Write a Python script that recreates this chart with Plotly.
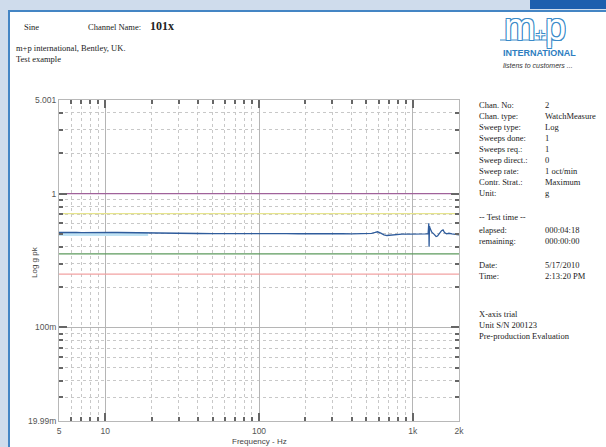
import plotly.graph_objects as go
import math

# ---------------- data ----------------
freq = [5, 5.5, 6, 6.5, 7, 8, 9, 10, 11, 12, 13, 14, 16, 18, 19, 22, 26, 30, 35, 40, 50, 60, 70,
        80, 100, 120, 150, 180, 200, 250, 300, 350, 400, 450, 500, 540, 570, 590, 620, 650,
        680, 720, 780, 850, 950, 1050, 1150, 1220, 1260, 1272, 1278, 1285, 1300, 1330, 1370,
        1420, 1450, 1490, 1540, 1575, 1610, 1660, 1720, 1800, 1880, 1950, 2000]
amp = [0.512, 0.514, 0.512, 0.513, 0.511, 0.513, 0.512, 0.511, 0.513, 0.512, 0.511, 0.512, 0.511, 0.510, 0.508,
       0.505, 0.504, 0.503, 0.504, 0.503, 0.502, 0.503, 0.502,
       0.503, 0.502, 0.503, 0.502, 0.501, 0.502, 0.501, 0.500, 0.501, 0.500, 0.501, 0.502, 0.505, 0.512, 0.518, 0.506, 0.492,
       0.486, 0.490, 0.496, 0.497, 0.498, 0.497, 0.499, 0.500, 0.502, 0.600, 0.400, 0.570, 0.545, 0.515, 0.500,
       0.478, 0.482, 0.505, 0.528, 0.535, 0.512, 0.500, 0.505, 0.500, 0.496, 0.494, 0.492]

band_freq = [5, 19]
band_amp = [0.497, 0.497]

limit_names = ["Abort +", "Alarm +", "Alarm -", "Abort -"]
limit_levels = [1.0, 0.707, 0.354, 0.25]
limit_colors = ["#a0629a", "#e6e48c", "#5c9a5c", "#f2a2a2"]

x_range = [5, 2000]
y_range = [0.01999, 5.001]

x_major = [5, 10, 100, 1000, 2000]
x_major_text = ["5", "10", "100", "1k", "2k"]
x_minor = [6, 7, 8, 9, 20, 30, 40, 50, 60, 70, 80, 90, 200, 300, 400, 500, 600, 700, 800, 900]
y_major = [0.01999, 0.1, 1, 5.001]
y_major_text = ["19.99m", "100m", "1", "5.001"]
y_minor = [0.03, 0.04, 0.05, 0.06, 0.07, 0.08, 0.09, 0.2, 0.3, 0.4, 0.5, 0.6, 0.7, 0.8, 0.9, 2, 3, 4]

info_labels = ["Chan. No:", "Chan. type:", "Sweep type:", "Sweeps done:", "Sweeps req.:",
               "Sweep direct.:", "Sweep rate:", "Contr. Strat.:", "Unit:"]
info_values = ["2", "WatchMeasure", "Log", "1", "1", "0", "1 oct/min", "Maximum", "g"]
time_labels = ["elapsed:", "remaining:"]
time_values = ["000:04:18", "000:00:00"]
date_labels = ["Date:", "Time:"]
date_values = ["5/17/2010", "2:13:20 PM"]
notes = ["X-axis trial", "Unit S/N 200123", "Pre-production Evaluation"]

# ---------------- layout geometry ----------------
W, H = 606, 447
L, R, T, B = 59, 459, 100, 421


def px(x):
    return (x - L) / (R - L)


def py(y):
    return (B - y) / (B - T)


fig = go.Figure()

# light band under trace
fig.add_trace(go.Scatter(x=band_freq, y=band_amp, mode="lines",
                         line=dict(color="#bfe2f3", width=3.5), hoverinfo="skip"))
# limit lines
for n, lv, c in zip(limit_names, limit_levels, limit_colors):
    fig.add_trace(go.Scatter(x=x_range, y=[lv, lv], mode="lines", name=n,
                             line=dict(color=c, width=1.3)))
# measured trace
fig.add_trace(go.Scatter(x=freq, y=amp, mode="lines", name="Control",
                         line=dict(color="#2f5c9c", width=1.3)))

serif = "Liberation Serif"
sans = "Liberation Sans"

shapes = []
# white panel with blue border
shapes.append(dict(type="rect", xref="paper", yref="paper", layer="below",
                   x0=px(9), x1=px(620), y0=py(11), y1=py(460),
                   fillcolor="white", line=dict(color="#4485c4", width=2)))
# dark blue bar top right
shapes.append(dict(type="rect", xref="paper", yref="paper", layer="below",
                   x0=px(530), x1=px(610), y0=py(-2), y1=py(9),
                   fillcolor="#1d5fae", line=dict(width=0)))
# logo underline
shapes.append(dict(type="line", xref="paper", yref="paper",
                   x0=px(500), x1=px(562), y0=py(40), y1=py(40),
                   line=dict(color="#3a8ac8", width=1)))

ann = []


def t(x, y, s, size=9, fam=serif, color="#222", anchor="left", **kw):
    ann.append(dict(x=px(x), y=py(y), xref="paper", yref="paper", text=s, showarrow=False,
                    xanchor=anchor, yanchor="middle", font=dict(family=fam, size=size, color=color, **kw)))


t(22, 27, "Sine", 8.5)
t(86, 27, "Channel Name:", 8.5)
t(148, 26, "<b>101x</b>", 12)
t(14, 48, "m+p international, Bentley, UK.", 8.5)
t(14, 59, "Test example", 8.5)

# logo
ann.append(dict(x=px(502), y=py(27), xref="paper", yref="paper", showarrow=False,
                xanchor="left", yanchor="middle",
                text="m<span style='font-size:16px'>+</span>p",
                font=dict(family=sans, size=38, color="white",
                          shadow="-1px -1px 0 #3a8ac8, 1px -1px 0 #3a8ac8, -1px 1px 0 #3a8ac8, 1px 1px 0 #3a8ac8")))
t(501, 53, "<b>INTERNATIONAL</b>", 9, sans, "#2d7dc0")
t(501, 65, "<i>listens to customers ...</i>", 7, sans, "#333")

ys = 105
for i, (lab, val) in enumerate(zip(info_labels, info_values)):
    t(477, ys + i * 11, lab, 8.5)
    t(543, ys + i * 11, val, 8.5)
t(477, 217, "-- Test time --", 8.5)
for i, (lab, val) in enumerate(zip(time_labels, time_values)):
    t(477, 230 + i * 11, lab, 8.5)
    t(543, 230 + i * 11, val, 8.5)
for i, (lab, val) in enumerate(zip(date_labels, date_values)):
    t(477, 265 + i * 11, lab, 8.5)
    t(543, 265 + i * 11, val, 8.5)
for i, s in enumerate(notes):
    t(477, 314 + i * 11, s, 8.5)

# axis titles
t(259, 441, "Frequency - Hz", 8, sans, "#444", anchor="center")
ann.append(dict(x=px(34), y=py(262), xref="paper", yref="paper", text="Log g pk", showarrow=False,
                textangle=-90, xanchor="center", yanchor="middle",
                font=dict(family=sans, size=8, color="#444")))

axis_common = dict(type="log", showline=True, linecolor="#b8b8b8", linewidth=1, mirror="ticks",
                   ticks="inside", ticklen=8, tickwidth=1.5, tickcolor="#666",
                   showgrid=True, gridcolor="#b5b5b5", gridwidth=1, zeroline=False,
                   tickfont=dict(family=sans, size=8.5, color="#555"), tickmode="array")

fig.update_layout(
    width=W, height=H, margin=dict(l=L, r=W - R, t=T, b=H - B),
    paper_bgcolor="#cfdcec", plot_bgcolor="rgba(0,0,0,0)", showlegend=False,
    shapes=shapes, annotations=ann,
    xaxis=dict(axis_common, range=[math.log10(x_range[0]), math.log10(x_range[1])],
               tickvals=x_major, ticktext=x_major_text, ticklabelstandoff=2,
               minor=dict(tickmode="array", tickvals=x_minor, ticks="inside", ticklen=4,
                          tickcolor="#666", showgrid=True, gridcolor="#c8c8c8", griddash="dot")),
    yaxis=dict(axis_common, range=[math.log10(y_range[0]), math.log10(y_range[1])],
               tickvals=y_major, ticktext=y_major_text,
               minor=dict(tickmode="array", tickvals=y_minor, ticks="inside", ticklen=4,
                          tickcolor="#666", showgrid=True, gridcolor="#c8c8c8", griddash="dot")),
)

fig.write_html("out.html", config={"displayModeBar": False},
               post_script="document.body.style.margin='0';document.body.style.overflow='hidden';")
